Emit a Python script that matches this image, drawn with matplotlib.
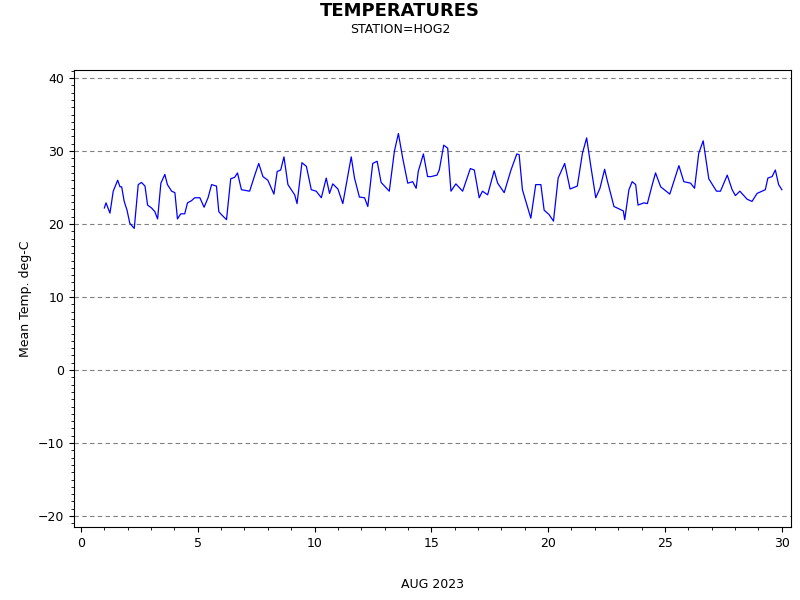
import matplotlib
matplotlib.use('Agg')
import matplotlib.pyplot as plt
from matplotlib.ticker import MultipleLocator

# Jour du mois (août 2023) et température moyenne (deg C)
days = [1.0, 1.07, 1.24, 1.38, 1.57, 1.67, 1.74, 1.85, 1.97, 2.09, 2.28, 2.45, 2.59, 2.74, 2.85,
        3.02, 3.16, 3.28, 3.42, 3.59, 3.7, 3.88, 4.02, 4.13, 4.27, 4.44, 4.56, 4.73, 4.87, 5.09,
        5.27, 5.44, 5.59, 5.8, 5.9, 6.01, 6.23, 6.41, 6.58, 6.7, 6.87, 7.22, 7.44, 7.61, 7.79,
        8.0, 8.26, 8.4, 8.55, 8.69, 8.86, 9.15, 9.25, 9.46, 9.65, 9.86, 10.07, 10.29, 10.5, 10.64,
        10.78, 11.0, 11.21, 11.57, 11.71, 11.92, 12.14, 12.28, 12.49, 12.68, 12.85, 13.2, 13.42,
        13.59, 13.77, 13.99, 14.2, 14.35, 14.44, 14.66, 14.84, 14.99, 15.24, 15.34, 15.53, 15.7,
        15.84, 16.05, 16.34, 16.67, 16.84, 17.05, 17.19, 17.41, 17.69, 17.84, 18.12, 18.41, 18.66,
        18.76, 18.9, 19.26, 19.47, 19.69, 19.83, 20.04, 20.23, 20.43, 20.71, 20.94, 21.25, 21.47,
        21.65, 21.82, 22.04, 22.22, 22.42, 22.53, 22.82, 23.22, 23.28, 23.46, 23.6, 23.75, 23.85,
        24.1, 24.25, 24.46, 24.6, 24.82, 25.21, 25.6, 25.81, 26.1, 26.27, 26.45, 26.64, 26.88,
        27.21, 27.38, 27.67, 27.88, 28.02, 28.21, 28.52, 28.73, 28.95, 29.3, 29.41, 29.59, 29.73,
        29.87, 30.01]
temps = [22.2, 22.9, 21.5, 24.5, 26.0, 25.1, 25.1, 23.1, 21.9, 20.1, 19.4, 25.4, 25.7, 25.2, 22.6,
         22.2, 21.7, 20.7, 25.6, 26.8, 25.4, 24.5, 24.3, 20.7, 21.4, 21.4, 22.9, 23.2, 23.6, 23.6,
         22.3, 23.6, 25.4, 25.2, 21.7, 21.3, 20.6, 26.2, 26.4, 27.0, 24.7, 24.5, 26.7, 28.3, 26.5,
         26.0, 24.1, 27.2, 27.4, 29.2, 25.4, 24.0, 22.8, 28.4, 27.9, 24.7, 24.5, 23.6, 26.3, 24.2,
         25.5, 24.8, 22.8, 29.2, 26.3, 23.7, 23.6, 22.4, 28.3, 28.6, 25.7, 24.5, 30.0,
         32.4, 29.1, 25.6, 25.8, 24.9, 27.2, 29.6, 26.5, 26.5, 26.7, 27.4, 30.8, 30.4,
         24.5, 25.5, 24.5, 27.6, 27.4, 23.6, 24.5, 24.0, 27.3, 25.6, 24.3, 27.4, 29.6,
         29.5, 24.7, 20.8, 25.4, 25.4, 21.9, 21.3, 20.4, 26.3, 28.3, 24.8, 25.2, 29.7,
         31.8, 28.1, 23.6, 24.9, 27.5, 26.0, 22.4, 21.8, 20.6, 24.7, 25.8, 25.4, 22.6,
         22.9, 22.8, 25.4, 27.0, 25.1, 24.1, 28.0, 25.8, 25.6, 24.9, 29.7, 31.4, 26.2,
         24.5, 24.5, 26.7, 24.7, 23.9, 24.5, 23.4, 23.1, 24.2, 24.7, 26.3, 26.5, 27.4,
         25.4, 24.7]

fig = plt.figure(figsize=(8, 6), dpi=100)
ax = fig.add_axes([74 / 800, 73 / 600, 717 / 800, 457 / 600])

ax.plot(days, temps, color='blue', linewidth=0.9)

ax.set_xlim(-0.3, 30.4)
ax.set_ylim(-21.5, 41.1)
ax.xaxis.set_major_locator(MultipleLocator(5))
ax.xaxis.set_minor_locator(MultipleLocator(1))
ax.yaxis.set_major_locator(MultipleLocator(10))
ax.yaxis.set_minor_locator(MultipleLocator(1))
ax.tick_params(labelsize=9)
ax.grid(axis='y', which='major', linestyle=(0, (4, 3)), color='gray', linewidth=0.8)

ax.set_ylabel('Mean Temp. deg-C', fontsize=9)
ax.set_xlabel('AUG 2023', fontsize=9, labelpad=20)

fig.text(0.5, 0.997, 'TEMPERATURES', ha='center', va='top', fontsize=13, fontweight='bold')
fig.text(0.5, 0.962, 'STATION=HOG2', ha='center', va='top', fontsize=9)

fig.savefig('out.png', dpi=100)
